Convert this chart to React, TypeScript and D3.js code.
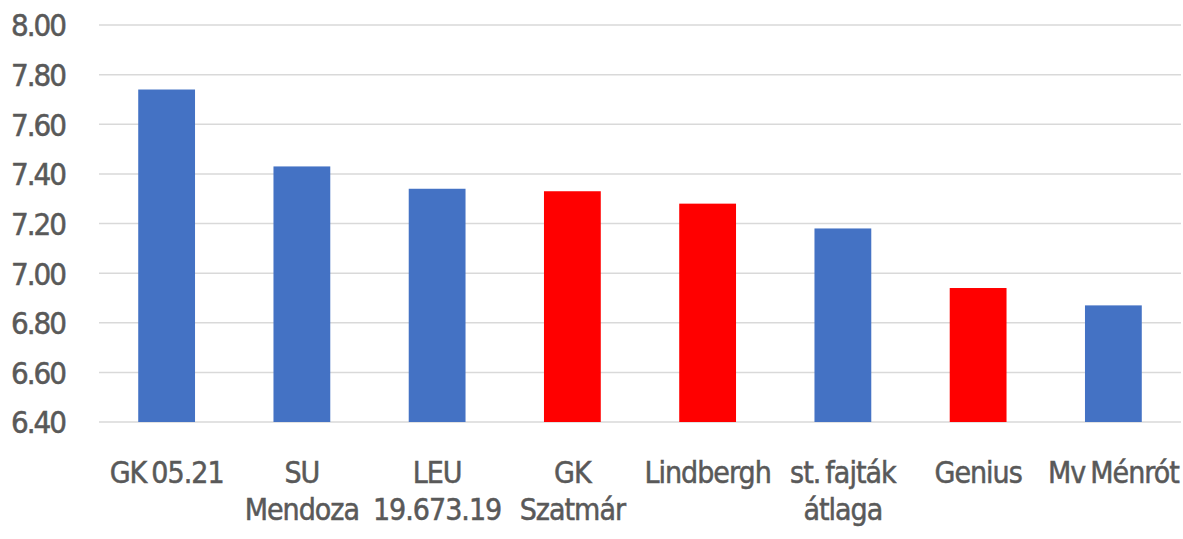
import React from "react";
import * as d3 from "d3";

const categories: string[][] = [
  ["GK 05.21"],
  ["SU", "Mendoza"],
  ["LEU", "19.673.19"],
  ["GK", "Szatmár"],
  ["Lindbergh"],
  ["st. fajták", "átlaga"],
  ["Genius"],
  ["Mv Ménrót"],
];
const values: number[] = [7.74, 7.43, 7.34, 7.33, 7.28, 7.18, 6.94, 6.87];
const highlighted: boolean[] = [false, false, false, true, true, false, true, false];
const yTicks: number[] = [6.4, 6.6, 6.8, 7.0, 7.2, 7.4, 7.6, 7.8, 8.0];

const W = 1183;
const H = 539;
const left = 99;
const right = 1181;
const top = 25;
const bottom = 422;
const FONT = "'DejaVu Sans Condensed', 'Liberation Sans Narrow', sans-serif";

export default function App() {
  const x = d3
    .scaleBand<number>()
    .domain(categories.map((_, i) => i))
    .range([left, right])
    .paddingInner(0.58)
    .paddingOuter(0.29);
  const y = d3.scaleLinear().domain([6.4, 8.0]).range([bottom, top]);

  return (
    <svg
      width={W}
      height={H}
      style={{ position: "absolute", left: 0, top: 0, background: "#fff" }}
    >
      {yTicks.map((t) => (
        <g key={t}>
          <line
            x1={left}
            x2={right}
            y1={y(t)}
            y2={y(t)}
            stroke="#d9d9d9"
            strokeWidth={1.5}
          />
          <text
            x={65}
            y={y(t)}
            dy="0.37em"
            textAnchor="end"
            fontFamily={FONT}
            fontSize={31}
            fill="#595959"
            stroke="#595959"
            strokeWidth={0.5}
            letterSpacing={-2}
          >
            {t.toFixed(2)}
          </text>
        </g>
      ))}
      {values.map((v, i) => (
        <rect
          key={i}
          x={x(i)}
          y={y(v)}
          width={x.bandwidth()}
          height={y(6.4) - y(v)}
          fill={highlighted[i] ? "#ff0000" : "#4472c4"}
        />
      ))}
      {categories.map((lines, i) => (
        <text
          key={i}
          textAnchor="middle"
          fontFamily={FONT}
          fontSize={30}
          fill="#595959"
          stroke="#595959"
          strokeWidth={0.5}
          letterSpacing={-1}
          wordSpacing={-2.5}
        >
          {lines.map((l, j) => (
            <tspan key={j} x={(x(i) as number) + x.bandwidth() / 2} y={483 + j * 37}>
              {l}
            </tspan>
          ))}
        </text>
      ))}
    </svg>
  );
}
